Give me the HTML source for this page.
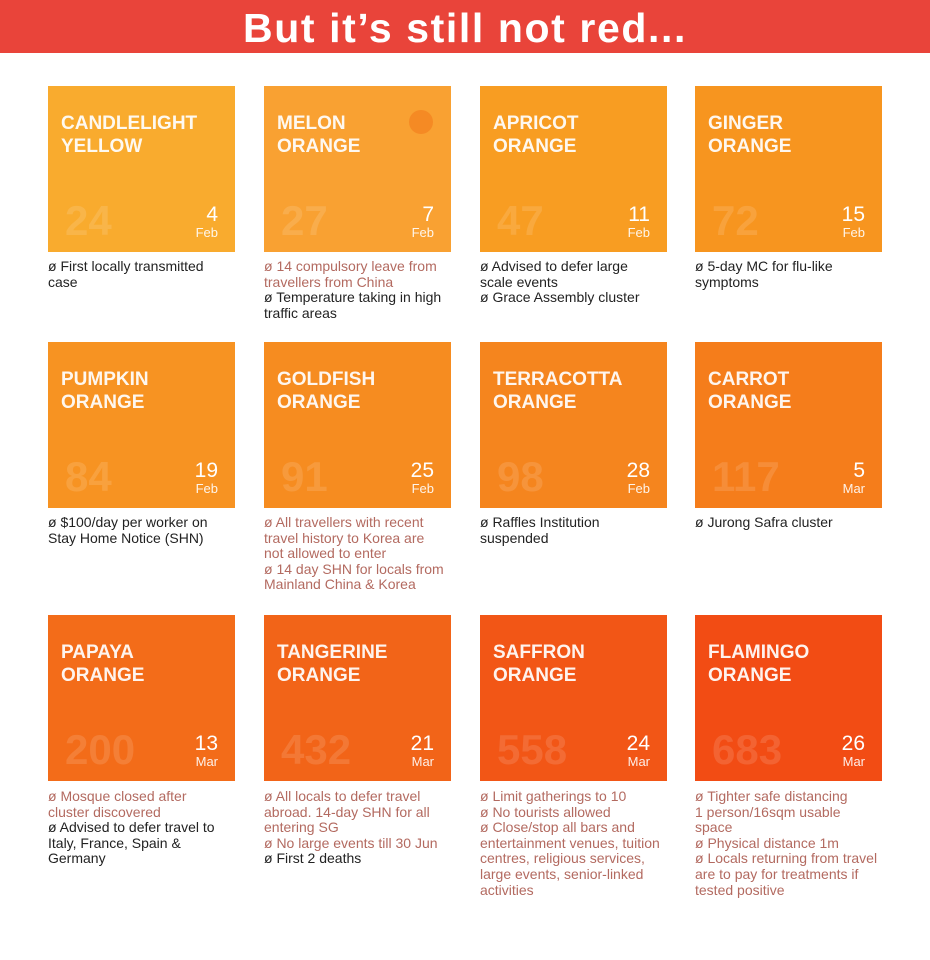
<!DOCTYPE html><html><head><style>
body{margin:0;width:930px;height:960px;background:#fff;font-family:"Liberation Sans",sans-serif;position:relative;overflow:hidden}
.hd{position:absolute;left:0;top:0;width:930px;height:53px;background:#E9443A;color:#fff;font-weight:bold;font-size:41px;text-align:center;line-height:56px;letter-spacing:1.6px}
.c{position:absolute;width:187px;height:166px}
.t{position:absolute;left:13px;top:26px;color:#fff;font-weight:bold;font-size:19px;line-height:23px;opacity:.93}
.n{position:absolute;left:17px;top:111px;color:rgba(255,255,255,.13);font-weight:bold;font-size:42px}
.d{position:absolute;right:17px;top:118px;color:#fff;text-align:right;font-size:21px;line-height:21px}
.d span{display:block;font-size:13px;line-height:15px;opacity:.9}
.x{position:absolute;width:205px;font-size:14px;line-height:15.6px;color:#222}
.r{color:#b36a60}
</style></head><body>
<div class="hd">But it’s still not red...</div>
<div class="c" style="left:48px;top:86px;background:#F9AB2E"><div class="t">CANDLELIGHT<br>YELLOW</div><div class="n">24</div><div class="d">4<span>Feb</span></div></div>
<div class="c" style="left:264px;top:86px;background:#F9A132"><div class="t">MELON<br>ORANGE</div><div style="position:absolute;left:145px;top:24px;width:24px;height:24px;border-radius:50%;background:#F58A24"></div><div class="n">27</div><div class="d">7<span>Feb</span></div></div>
<div class="c" style="left:480px;top:86px;background:#F89D22"><div class="t">APRICOT<br>ORANGE</div><div class="n">47</div><div class="d">11<span>Feb</span></div></div>
<div class="c" style="left:695px;top:86px;background:#F7951F"><div class="t">GINGER<br>ORANGE</div><div class="n">72</div><div class="d">15<span>Feb</span></div></div>

<div class="c" style="left:48px;top:342px;background:#F79322"><div class="t">PUMPKIN<br>ORANGE</div><div class="n">84</div><div class="d">19<span>Feb</span></div></div>
<div class="c" style="left:264px;top:342px;background:#F68C20"><div class="t">GOLDFISH<br>ORANGE</div><div class="n">91</div><div class="d">25<span>Feb</span></div></div>
<div class="c" style="left:480px;top:342px;background:#F5851E"><div class="t">TERRACOTTA<br>ORANGE</div><div class="n">98</div><div class="d">28<span>Feb</span></div></div>
<div class="c" style="left:695px;top:342px;background:#F57D1B"><div class="t">CARROT<br>ORANGE</div><div class="n">117</div><div class="d">5<span>Mar</span></div></div>

<div class="c" style="left:48px;top:615px;background:#F36C19"><div class="t">PAPAYA<br>ORANGE</div><div class="n">200</div><div class="d">13<span>Mar</span></div></div>
<div class="c" style="left:264px;top:615px;background:#F26418"><div class="t">TANGERINE<br>ORANGE</div><div class="n">432</div><div class="d">21<span>Mar</span></div></div>
<div class="c" style="left:480px;top:615px;background:#F25616"><div class="t">SAFFRON<br>ORANGE</div><div class="n">558</div><div class="d">24<span>Mar</span></div></div>
<div class="c" style="left:695px;top:615px;background:#F24C14"><div class="t">FLAMINGO<br>ORANGE</div><div class="n">683</div><div class="d">26<span>Mar</span></div></div>

<div class="x" style="left:48px;top:259px">ø First locally transmitted<br>case</div>
<div class="x" style="left:264px;top:259px"><span class="r">ø 14 compulsory leave from<br>travellers from China</span><br>ø Temperature taking in high<br>traffic areas</div>
<div class="x" style="left:480px;top:259px">ø Advised to defer large<br>scale events<br>ø Grace Assembly cluster</div>
<div class="x" style="left:695px;top:259px">ø 5-day MC for flu-like<br>symptoms</div>

<div class="x" style="left:48px;top:515px">ø $100/day per worker on<br>Stay Home Notice (SHN)</div>
<div class="x r" style="left:264px;top:515px">ø All travellers with recent<br>travel history to Korea are<br>not allowed to enter<br>ø 14 day SHN for locals from<br>Mainland China &amp; Korea</div>
<div class="x" style="left:480px;top:515px">ø Raffles Institution<br>suspended</div>
<div class="x" style="left:695px;top:515px">ø Jurong Safra cluster</div>

<div class="x" style="left:48px;top:789px"><span class="r">ø Mosque closed after<br>cluster discovered</span><br>ø Advised to defer travel to<br>Italy, France, Spain &amp;<br>Germany</div>
<div class="x" style="left:264px;top:789px"><span class="r">ø All locals to defer travel<br>abroad. 14-day SHN for all<br>entering SG<br>ø No large events till 30 Jun</span><br>ø First 2 deaths</div>
<div class="x r" style="left:480px;top:789px">ø Limit gatherings to 10<br>ø No tourists allowed<br>ø Close/stop all bars and<br>entertainment venues, tuition<br>centres, religious services,<br>large events, senior-linked<br>activities</div>
<div class="x r" style="left:695px;top:789px">ø Tighter safe distancing<br>1 person/16sqm usable<br>space<br>ø Physical distance 1m<br>ø Locals returning from travel<br>are to pay for treatments if<br>tested positive</div>
</body></html>
